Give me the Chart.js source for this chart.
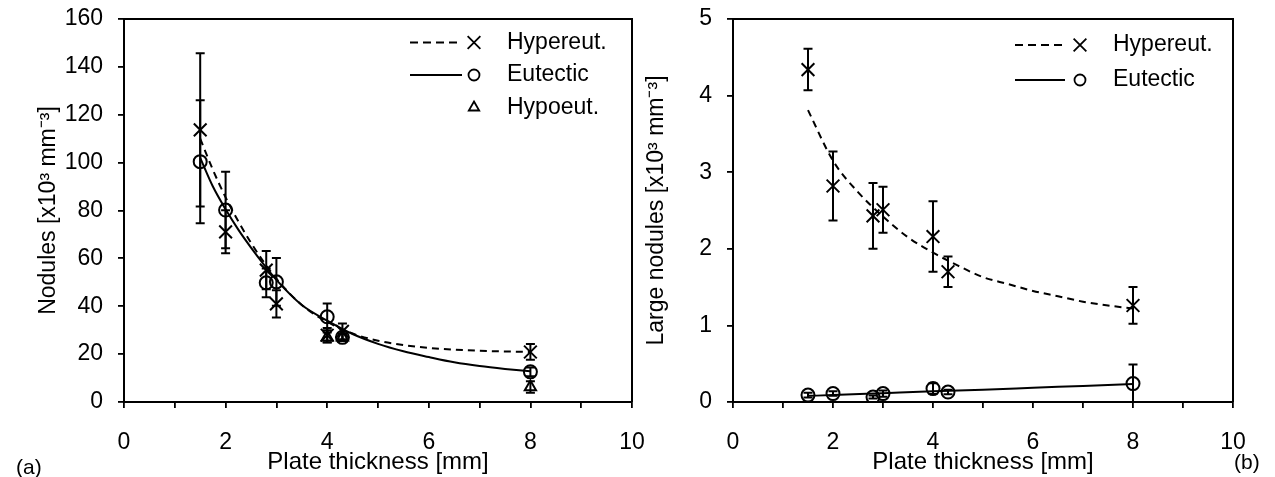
<!DOCTYPE html>
<html><head><meta charset="utf-8">
<script src="https://cdn.jsdelivr.net/npm/chart.js@4.4.1/dist/chart.umd.min.js"></script>
<style>
html,body{margin:0;padding:0;background:#fff;width:1275px;height:477px;overflow:hidden;position:relative;}
.box{position:absolute;top:0;height:477px;}
#a{left:0;width:660px;z-index:1;} #b{left:640px;width:635px;z-index:2;}
.tag{position:absolute;font-family:'Liberation Sans',Arial,sans-serif;font-size:21px;color:#000;line-height:1;z-index:3;}
</style></head><body>
<div class="box" id="a"><canvas id="ca" width="660" height="477"></canvas></div>
<div class="box" id="b"><canvas id="cb" width="635" height="477"></canvas></div>
<div class="tag" style="left:16px;top:456px">(a)</div>
<div class="tag" style="left:1234px;top:451px">(b)</div>
<script>
// ---------- data ----------
const thickness = [1.5, 2, 2.8, 3, 4, 4.3, 8];

// (a) total nodule count [x10^3 mm^-3]
const hyperNodules    = [113.7, 71.1, 55.1, 41.0, 27.9, 29.5, 20.9];
const hyperNodulesErr = [32, 9, 8, 5.7, 3, 3.3, 3.3];
const eutNodules      = [100.4, 80.2, 49.8, 50.2, 35.6, 27.0, 12.6];
const eutNodulesErr   = [25.7, 16, 6, 10, 5.6, 1.5, 1.8];
const hypoThickness   = [4, 4.3, 8];
const hypoNodules     = [27.0, 27.0, 6.3];
const hypoNodulesErr  = [2, 1.5, 2.4];

// (a) fitted curves
const fitThicknessA = [1.5, 1.75, 2, 2.25, 2.5, 2.75, 3, 3.5, 4, 4.5, 5, 5.5, 6, 6.5, 7, 7.5, 8];
const hyperFitA     = [110, 97, 85.5, 75.5, 66.5, 58.5, 51.5, 40.5, 33.5, 28.6, 25.6, 23.8, 22.6, 21.9, 21.4, 21.1, 20.9];
const eutFitA       = [102, 90, 80.5, 72, 64.5, 57.5, 51, 40.5, 34, 28.4, 24.3, 21.2, 18.8, 16.6, 15, 13.8, 12.8];

// (b) large nodules [x10^3 mm^-3]
const hyperLarge    = [4.34, 2.82, 2.43, 2.51, 2.16, 1.70, 1.26];
const hyperLargeErr = [0.27, 0.45, 0.43, 0.30, 0.46, 0.20, 0.24];
const eutLarge      = [0.09, 0.11, 0.065, 0.11, 0.175, 0.13, 0.24];
const eutLargeErr   = [0.03, 0.03, 0.02, 0.04, 0.07, 0.03, 0.25];

// (b) fitted curves
const fitThicknessB = [1.5, 2, 2.5, 3, 3.5, 4, 4.5, 5, 5.5, 6, 6.5, 7, 7.5, 8];
const hyperFitB     = [3.81, 3.15, 2.74, 2.42, 2.15, 1.95, 1.78, 1.63, 1.54, 1.45, 1.38, 1.31, 1.26, 1.22];
const eutFitThicknessB = [1.5, 2, 3, 4, 5, 6, 7, 8];
const eutFitB          = [0.08, 0.09, 0.115, 0.14, 0.16, 0.185, 0.21, 0.235];

const seriesLabels = ['Hypereut.', 'Eutectic', 'Hypoeut.'];
const xTitle  = 'Plate thickness [mm]';
const yTitleA = 'Nodules [x10³ mm⁻³]';
const yTitleB = 'Large nodules [x10³ mm⁻³]';

// ---------- helpers ----------
const FONT = "'Liberation Sans', Arial, sans-serif";
const pts = (xs, ys) => xs.map((x, i) => ({x, y: ys[i]}));

const errorBarPlugin = {
  id: 'errorBars',
  afterDatasetsDraw(chart) {
    const {ctx, scales: {x, y}} = chart;
    ctx.save();
    ctx.strokeStyle = '#000';
    ctx.lineWidth = 2;
    chart.data.datasets.forEach(ds => {
      if (!ds.errors) return;
      ds.data.forEach((p, j) => {
        const e = ds.errors[j];
        const px = x.getPixelForValue(p.x);
        const yt = y.getPixelForValue(p.y + e);
        const yb = y.getPixelForValue(Math.max(p.y - e, y.min));
        const c = 4.5;
        ctx.beginPath();
        ctx.moveTo(px, yt); ctx.lineTo(px, yb);
        ctx.moveTo(px - c, yt); ctx.lineTo(px + c, yt);
        ctx.moveTo(px - c, yb); ctx.lineTo(px + c, yb);
        ctx.stroke();
      });
    });
    ctx.restore();
  }
};

const framePlugin = {
  id: 'frame',
  afterDraw(chart) {
    const {ctx, chartArea: a} = chart;
    ctx.save();
    ctx.strokeStyle = '#000';
    ctx.lineWidth = 2;
    ctx.beginPath();
    ctx.moveTo(a.left, a.top); ctx.lineTo(a.right, a.top); ctx.lineTo(a.right, a.bottom);
    ctx.stroke();
    ctx.restore();
  }
};

const legendPlugin = {
  id: 'sampleLegend',
  afterDraw(chart, args, opts) {
    const {ctx, chartArea: a} = chart;
    ctx.save();
    ctx.font = opts.fontSize + 'px ' + FONT;
    ctx.textBaseline = 'middle';
    ctx.textAlign = 'left';
    opts.entries.forEach((e, i) => {
      const ds = chart.data.datasets[e.dataset];
      const y = a.top + opts.top + i * opts.gap;
      const x0 = a.right - opts.fromRight;
      ctx.strokeStyle = '#000';
      if (e.dash !== undefined) {
        ctx.lineWidth = 1.8;
        ctx.setLineDash(e.dash);
        ctx.beginPath();
        ctx.moveTo(x0, y); ctx.lineTo(x0 + opts.lineLen, y);
        ctx.stroke();
      }
      ctx.setLineDash([]);
      ctx.fillStyle = 'rgba(0,0,0,0)';
      ctx.lineWidth = 1.8;
      Chart.helpers.drawPoint(ctx, {pointStyle: ds.pointStyle, radius: e.radius, borderWidth: 1.8, rotation: 0},
        x0 + opts.markerOffset, y);
      ctx.fillStyle = '#000';
      ctx.fillText(ds.label, x0 + opts.textOffset, y);
    });
    ctx.restore();
  }
};

function pointSet(label, xs, ys, errs, style, radius) {
  return {
    label, data: pts(xs, ys), errors: errs, showLine: false,
    pointStyle: style, pointRadius: radius, pointHoverRadius: radius,
    pointBorderWidth: 2, borderColor: '#000', backgroundColor: 'rgba(0,0,0,0)',
    pointBackgroundColor: 'rgba(0,0,0,0)', pointBorderColor: '#000'
  };
}
function fitSet(label, xs, ys, dash) {
  return {
    label, data: pts(xs, ys), showLine: true, pointRadius: 0, pointHoverRadius: 0,
    borderColor: '#000', borderWidth: 2, borderDash: dash,
    cubicInterpolationMode: 'monotone', fill: false
  };
}

function axes(yMax, yStep, yTitle, yWidth, yTitlePad) {
  return {
    x: {
      type: 'linear', min: 0, max: 10,
      afterFit: s => { s.height = 75; s.paddingLeft = 0; s.paddingRight = 0; },
      ticks: { stepSize: 1, autoSkip: false, maxRotation: 0, color: '#000', padding: 21,
               font: {family: FONT, size: 23},
               callback: v => (v % 2 === 0 ? String(v) : '') },
      grid: { drawOnChartArea: false, drawTicks: true, tickLength: 6, color: '#000', lineWidth: 1.8 },
      border: { display: true, color: '#000', width: 2 },
      title: { display: true, text: xTitle, color: '#000', font: {family: FONT, size: 24},
               padding: {top: 0, bottom: 0} }
    },
    y: {
      type: 'linear', min: 0, max: yMax,
      afterFit: s => { s.width = yWidth; s.paddingTop = 0; s.paddingBottom = 0; },
      ticks: { stepSize: yStep, autoSkip: false, color: '#000', padding: 15,
               font: {family: FONT, size: 23} },
      grid: { drawOnChartArea: false, drawTicks: true, tickLength: 6, color: '#000', lineWidth: 1.8 },
      border: { display: true, color: '#000', width: 2 },
      title: { display: true, text: yTitle, color: '#000', font: {family: FONT, size: 23},
               padding: {top: yTitlePad, bottom: 0} }
    }
  };
}

// ---------- chart (a) ----------
new Chart(document.getElementById('ca'), {
  type: 'scatter',
  data: { datasets: [
    pointSet(seriesLabels[0], thickness, hyperNodules, hyperNodulesErr, 'crossRot', 9),
    pointSet(seriesLabels[1], thickness, eutNodules, eutNodulesErr, 'circle', 6.5),
    pointSet(seriesLabels[2], hypoThickness, hypoNodules, hypoNodulesErr, 'triangle', 6.5),
    fitSet('Hypereut. fit', fitThicknessA, hyperFitA, [7, 5]),
    fitSet('Eutectic fit', fitThicknessA, eutFitA, [])
  ]},
  options: {
    responsive: false, animation: false, events: [],
    layout: { padding: {left: 0, right: 28, top: 19, bottom: 0} },
    scales: axes(160, 20, yTitleA, 124, 35),
    plugins: {
      legend: { display: false }, tooltip: { enabled: false },
      sampleLegend: { fontSize: 23, top: 23.5, gap: 32.5, fromRight: 222, lineLen: 52,
                      markerOffset: 64, textOffset: 97,
                      entries: [ {dataset: 0, dash: [8, 5], radius: 9},
                                 {dataset: 1, dash: [], radius: 5.5},
                                 {dataset: 2, radius: 6} ] }
    }
  },
  plugins: [errorBarPlugin, framePlugin, legendPlugin]
});

// ---------- chart (b) ----------
new Chart(document.getElementById('cb'), {
  type: 'scatter',
  data: { datasets: [
    pointSet(seriesLabels[0], thickness, hyperLarge, hyperLargeErr, 'crossRot', 9),
    pointSet(seriesLabels[1], thickness, eutLarge, eutLargeErr, 'circle', 6.5),
    fitSet('Hypereut. fit', fitThicknessB, hyperFitB, [7, 5]),
    fitSet('Eutectic fit', eutFitThicknessB, eutFitB, [])
  ]},
  options: {
    responsive: false, animation: false, events: [],
    layout: { padding: {left: 0, right: 42, top: 19, bottom: 0} },
    scales: axes(5, 1, yTitleB, 93, 3),
    plugins: {
      legend: { display: false }, tooltip: { enabled: false },
      sampleLegend: { fontSize: 23, top: 26, gap: 35, fromRight: 218, lineLen: 50,
                      markerOffset: 65, textOffset: 98,
                      entries: [ {dataset: 0, dash: [8, 5], radius: 9},
                                 {dataset: 1, dash: [], radius: 5.5} ] }
    }
  },
  plugins: [errorBarPlugin, framePlugin, legendPlugin]
});
</script>
</body></html>
